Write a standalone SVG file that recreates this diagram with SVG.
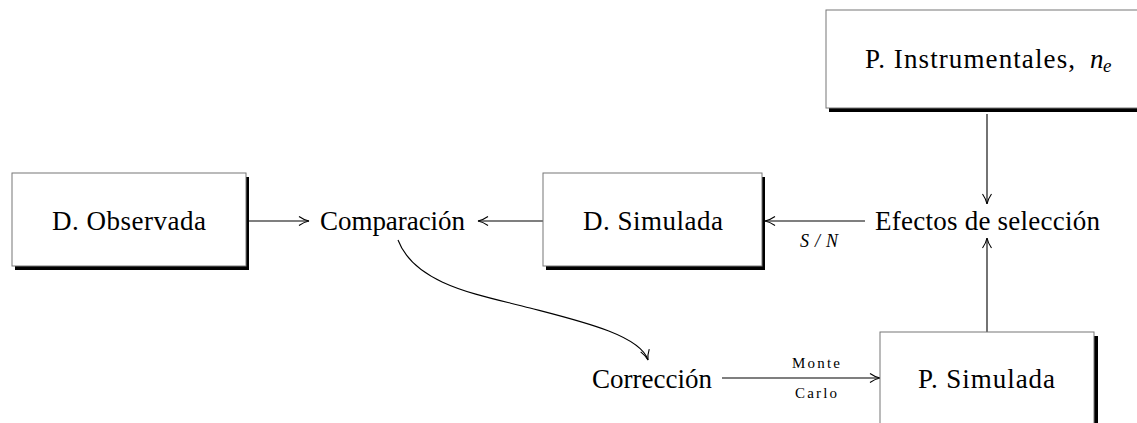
<svg xmlns="http://www.w3.org/2000/svg" width="1137" height="423" viewBox="0 0 1137 423">
<style>
.box{fill:#fff;stroke:#777;stroke-width:1}
.sh{fill:#000}
.lbl{font-family:"Liberation Serif","Times New Roman",serif;font-size:27px;fill:#000}
.sm{font-family:"Liberation Serif","Times New Roman",serif;font-size:15px;fill:#000}
.it{font-style:italic}
.con{fill:none;stroke:#000;stroke-width:1.1}
</style>
<defs>
<marker id="ah" viewBox="-11 -6 12 12" refX="0" refY="0" markerWidth="12" markerHeight="12" markerUnits="userSpaceOnUse" orient="auto">
<path d="M -10 -4.5 Q -5 -1 0 0 Q -5 1 -10 4.5" fill="none" stroke="#000" stroke-width="1.1"/>
</marker>
</defs>
<rect width="1137" height="423" fill="#fff"/>

<g id="connectors">
<line class="con" x1="249" y1="221" x2="309" y2="221" marker-end="url(#ah)"/>
<line class="con" x1="543" y1="221" x2="478" y2="221" marker-end="url(#ah)"/>
<line class="con" x1="865" y1="221" x2="765" y2="221" marker-end="url(#ah)"/>
<line class="con" x1="987" y1="114" x2="987" y2="204" marker-end="url(#ah)"/>
<line class="con" x1="987" y1="332" x2="987" y2="238" marker-end="url(#ah)"/>
<line class="con" x1="722" y1="378" x2="880" y2="378" marker-end="url(#ah)"/>
<path class="con" d="M 398 240 C 415 285, 480 295, 530 308 C 580 321, 640 335, 648 360" marker-end="url(#ah)"/>
<text class="lbl it" x="800" y="247" style="font-size:18px" textLength="38" lengthAdjust="spacing">S/N</text>
<text class="sm" x="792" y="368" textLength="48" lengthAdjust="spacing">Monte</text>
<text class="sm" x="795" y="398" textLength="42" lengthAdjust="spacing">Carlo</text>
</g>

<g id="instrumentales">
<rect class="sh" x="829" y="14" width="322" height="98"/>
<rect class="box" x="826" y="10" width="322" height="98"/>
<text class="lbl" x="865" y="68" textLength="210" lengthAdjust="spacing">P. Instrumentales,</text>
<text class="lbl it" x="1090" y="68">n</text>
<text class="lbl it" x="1103" y="72" style="font-size:19px">e</text>
</g>

<g id="observada">
<rect class="sh" x="15" y="177" width="234" height="93"/>
<rect class="box" x="12" y="173" width="234" height="93"/>
<text class="lbl" x="52" y="230" textLength="154" lengthAdjust="spacing">D. Observada</text>
</g>

<g id="comparacion">
<text class="lbl" x="320" y="230" textLength="145" lengthAdjust="spacing">Comparación</text>
</g>

<g id="dsimulada">
<rect class="sh" x="546" y="177" width="219" height="93"/>
<rect class="box" x="543" y="173" width="219" height="93"/>
<text class="lbl" x="583" y="230" textLength="140" lengthAdjust="spacing">D. Simulada</text>
</g>

<g id="efectos">
<text class="lbl" x="875" y="230" textLength="225" lengthAdjust="spacing">Efectos de selección</text>
</g>

<g id="correccion">
<text class="lbl" x="592" y="388" textLength="120" lengthAdjust="spacing">Corrección</text>
</g>

<g id="psimulada">
<rect class="sh" x="884" y="336" width="214" height="100"/>
<rect class="box" x="880" y="332" width="214" height="100"/>
<text class="lbl" x="918" y="388" textLength="137" lengthAdjust="spacing">P. Simulada</text>
</g>
</svg>
